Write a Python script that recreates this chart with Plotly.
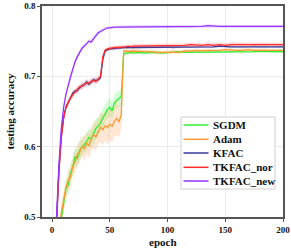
import plotly.graph_objects as go

epochs = [0, 2, 4, 6, 8, 10, 12, 14, 16, 18, 20, 22, 24, 26, 28, 30, 32, 34, 36, 38,
          40, 42, 44, 46, 48, 50, 52, 54, 56, 58, 60, 62, 64, 66, 68, 70,
          75, 80, 85, 90, 95, 100, 105, 110, 115, 120, 125, 130, 135, 140, 145,
          150, 155, 160, 165, 170, 175, 180, 185, 190, 195, 200]

sgdm = [0.300, 0.360, 0.420, 0.465, 0.498, 0.520, 0.540, 0.545, 0.562, 0.571, 0.586, 0.583,
        0.595, 0.599, 0.603, 0.607, 0.613, 0.611, 0.619, 0.626, 0.629, 0.634, 0.641, 0.646,
        0.653, 0.656, 0.651, 0.662, 0.666, 0.668, 0.671, 0.731, 0.733, 0.733, 0.734, 0.733,
        0.734, 0.733, 0.734, 0.734, 0.733, 0.734, 0.734, 0.735, 0.734, 0.734, 0.735, 0.734,
        0.735, 0.735, 0.734, 0.735, 0.735, 0.735, 0.734, 0.735, 0.735, 0.736, 0.735, 0.735,
        0.735, 0.735]
sgdm_sd = [0.012, 0.012, 0.012, 0.012, 0.012, 0.012, 0.013, 0.012, 0.013, 0.012, 0.013, 0.012,
           0.013, 0.012, 0.011, 0.012, 0.013, 0.012, 0.013, 0.014, 0.013, 0.012, 0.014, 0.013,
           0.012, 0.013, 0.012, 0.011, 0.012, 0.011, 0.012, 0.003, 0.002, 0.002, 0.002, 0.002,
           0.002, 0.002, 0.001, 0.002, 0.002, 0.001, 0.002, 0.002, 0.001, 0.002, 0.002, 0.001,
           0.002, 0.002, 0.001, 0.002, 0.002, 0.001, 0.002, 0.002, 0.001, 0.002, 0.002, 0.001,
           0.002, 0.002]

adam = [0.320, 0.380, 0.435, 0.475, 0.505, 0.522, 0.541, 0.552, 0.557, 0.572, 0.579, 0.589,
        0.592, 0.601, 0.597, 0.605, 0.601, 0.612, 0.617, 0.614, 0.622, 0.628, 0.624, 0.630,
        0.627, 0.632, 0.629, 0.636, 0.640, 0.635, 0.646, 0.736, 0.736, 0.735, 0.736, 0.736,
        0.735, 0.735, 0.735, 0.734, 0.734, 0.734, 0.735, 0.734, 0.736, 0.736, 0.737, 0.737,
        0.737, 0.737, 0.737, 0.738, 0.737, 0.737, 0.737, 0.738, 0.737, 0.737, 0.737, 0.738,
        0.737, 0.737]
adam_sd = [0.015, 0.015, 0.015, 0.015, 0.014, 0.015, 0.014, 0.016, 0.015, 0.014, 0.016, 0.015,
           0.016, 0.014, 0.017, 0.016, 0.018, 0.017, 0.019, 0.020, 0.018, 0.021, 0.022, 0.020,
           0.024, 0.022, 0.023, 0.021, 0.024, 0.022, 0.020, 0.003, 0.002, 0.003, 0.002, 0.003,
           0.003, 0.002, 0.003, 0.003, 0.002, 0.003, 0.003, 0.002, 0.003, 0.002, 0.003, 0.002,
           0.003, 0.002, 0.003, 0.002, 0.003, 0.002, 0.003, 0.002, 0.003, 0.002, 0.003, 0.002,
           0.003, 0.002]

kfac = [0.350, 0.430, 0.505, 0.566, 0.613, 0.641, 0.656, 0.662, 0.670, 0.676, 0.679, 0.680,
        0.684, 0.687, 0.688, 0.692, 0.689, 0.692, 0.695, 0.694, 0.695, 0.698, 0.724, 0.736,
        0.738, 0.739, 0.739, 0.740, 0.740, 0.740, 0.741, 0.741, 0.741, 0.741, 0.741, 0.741,
        0.741, 0.741, 0.742, 0.741, 0.742, 0.742, 0.741, 0.742, 0.742, 0.742, 0.742, 0.742,
        0.742, 0.742, 0.743, 0.742, 0.742, 0.742, 0.742, 0.742, 0.743, 0.742, 0.742, 0.742,
        0.742, 0.742]
kfac_sd = [0.003, 0.003, 0.003, 0.003, 0.003, 0.004, 0.003, 0.004, 0.003, 0.004, 0.003, 0.004,
           0.003, 0.004, 0.003, 0.004, 0.003, 0.004, 0.003, 0.004, 0.003, 0.003, 0.003, 0.002,
           0.002, 0.002, 0.002, 0.002, 0.002, 0.002, 0.002, 0.002, 0.002, 0.002, 0.002, 0.002,
           0.002, 0.001, 0.002, 0.001, 0.002, 0.001, 0.002, 0.001, 0.002, 0.001, 0.002, 0.001,
           0.002, 0.001, 0.002, 0.001, 0.002, 0.001, 0.002, 0.001, 0.002, 0.001, 0.002, 0.001,
           0.002, 0.001]

tkfac_nor = [0.350, 0.430, 0.505, 0.565, 0.612, 0.640, 0.655, 0.663, 0.669, 0.674, 0.678, 0.681,
             0.685, 0.686, 0.689, 0.691, 0.690, 0.693, 0.694, 0.693, 0.696, 0.700, 0.728, 0.737,
             0.739, 0.740, 0.740, 0.741, 0.741, 0.741, 0.742, 0.742, 0.742, 0.743, 0.742, 0.743,
             0.743, 0.743, 0.744, 0.743, 0.744, 0.744, 0.743, 0.744, 0.744, 0.745, 0.744, 0.744,
             0.745, 0.744, 0.745, 0.744, 0.745, 0.745, 0.744, 0.745, 0.745, 0.745, 0.744, 0.745,
             0.745, 0.745]
tkfac_nor_sd = [0.004, 0.004, 0.004, 0.004, 0.004, 0.005, 0.004, 0.005, 0.004, 0.005, 0.004, 0.005,
                0.004, 0.005, 0.004, 0.005, 0.004, 0.005, 0.004, 0.005, 0.004, 0.004, 0.004, 0.003,
                0.003, 0.003, 0.003, 0.003, 0.003, 0.003, 0.003, 0.003, 0.003, 0.003, 0.003, 0.003,
                0.003, 0.003, 0.003, 0.003, 0.003, 0.003, 0.003, 0.003, 0.003, 0.003, 0.003, 0.003,
                0.003, 0.003, 0.003, 0.003, 0.003, 0.003, 0.003, 0.003, 0.003, 0.003, 0.003, 0.003,
                0.003, 0.003]

tkfac_new = [0.360, 0.440, 0.515, 0.575, 0.625, 0.655, 0.674, 0.688, 0.699, 0.710, 0.721, 0.728,
             0.735, 0.740, 0.743, 0.747, 0.750, 0.749, 0.754, 0.758, 0.762, 0.764, 0.766, 0.768,
             0.769, 0.769, 0.770, 0.770, 0.770, 0.770, 0.770, 0.771, 0.770, 0.771, 0.771, 0.770,
             0.771, 0.771, 0.770, 0.771, 0.771, 0.770, 0.771, 0.771, 0.771, 0.770, 0.771, 0.771,
             0.772, 0.771, 0.771, 0.771, 0.771, 0.772, 0.771, 0.771, 0.771, 0.771, 0.772, 0.771,
             0.771, 0.771]
tkfac_new_sd = [0.004, 0.004, 0.004, 0.004, 0.004, 0.004, 0.004, 0.004, 0.004, 0.004, 0.004, 0.004,
                0.003, 0.003, 0.003, 0.003, 0.003, 0.003, 0.003, 0.003, 0.003, 0.003, 0.002, 0.002,
                0.002, 0.002, 0.002, 0.002, 0.002, 0.002, 0.002, 0.002, 0.002, 0.002, 0.002, 0.002,
                0.002, 0.002, 0.002, 0.002, 0.002, 0.002, 0.002, 0.002, 0.002, 0.002, 0.002, 0.002,
                0.002, 0.002, 0.002, 0.002, 0.002, 0.002, 0.002, 0.002, 0.002, 0.002, 0.002, 0.002,
                0.002, 0.002]

series_names = ["SGDM", "Adam", "KFAC", "TKFAC_nor", "TKFAC_new"]
series_vals = [sgdm, adam, kfac, tkfac_nor, tkfac_new]
series_sd = [sgdm_sd, adam_sd, kfac_sd, tkfac_nor_sd, tkfac_new_sd]
line_colors = ["#33ee33", "#ff9933", "#3a3a9a", "#ff2a2a", "#9933ff"]
fill_colors = ["rgba(60,240,60,0.22)", "rgba(255,160,80,0.25)", "rgba(70,70,170,0.20)",
               "rgba(255,60,60,0.20)", "rgba(160,80,255,0.22)"]

FONT = "Liberation Serif, Times New Roman, Times, serif"
W, H = 291, 251
ML, MR, MT, MB = 42, 8, 6, 34
PW, PH = W - ML - MR, H - MT - MB


def px_to_paper_x(px):
    return (px - ML) / PW


def px_to_paper_y(py):
    return (H - MB - py) / PH


fig = go.Figure()

for vals, sd, fcol in zip(series_vals, series_sd, fill_colors):
    upper = [v + s for v, s in zip(vals, sd)]
    lower = [v - s for v, s in zip(vals, sd)]
    fig.add_trace(go.Scatter(
        x=epochs + epochs[::-1], y=upper + lower[::-1],
        fill="toself", fillcolor=fcol, line=dict(width=0),
        mode="lines", hoverinfo="skip", showlegend=False))

for name, vals, col in zip(series_names, series_vals, line_colors):
    fig.add_trace(go.Scatter(
        x=epochs, y=vals, mode="lines", name=name, showlegend=False,
        line=dict(color=col, width=1.3)))

# legend box (drawn manually to match compact row spacing)
shapes = [dict(type="rect", xref="paper", yref="paper",
               x0=px_to_paper_x(181), x1=px_to_paper_x(275),
               y0=px_to_paper_y(189), y1=px_to_paper_y(117),
               fillcolor="white", line=dict(color="#d0d0d0", width=1), layer="above")]
annotations = []
row_y = [125, 139.3, 153, 167.3, 181]
for name, col, ry in zip(series_names, line_colors, row_y):
    shapes.append(dict(type="line", xref="paper", yref="paper",
                       x0=px_to_paper_x(183.5), x1=px_to_paper_x(208.5),
                       y0=px_to_paper_y(ry), y1=px_to_paper_y(ry),
                       line=dict(color=col, width=1.5), layer="above"))
    annotations.append(dict(xref="paper", yref="paper", x=px_to_paper_x(210.5),
                            y=px_to_paper_y(ry), text=name, showarrow=False,
                            xanchor="left", yanchor="middle",
                            font=dict(family=FONT, size=11, color="#111", weight="bold")))

annotations.append(dict(xref="paper", yref="paper", x=px_to_paper_x(162.5),
                        y=px_to_paper_y(242), text="epoch", showarrow=False,
                        xanchor="center", yanchor="middle",
                        font=dict(family=FONT, size=11, color="#111", weight="bold")))
annotations.append(dict(xref="paper", yref="paper", x=px_to_paper_x(9),
                        y=px_to_paper_y(111.5), text="testing accuracy", showarrow=False,
                        textangle=-90, xanchor="center", yanchor="middle",
                        font=dict(family=FONT, size=11, color="#111", weight="bold")))

fig.update_layout(
    width=W, height=H,
    margin=dict(l=ML, r=MR, t=MT, b=MB, autoexpand=False),
    paper_bgcolor="white", plot_bgcolor="white",
    font=dict(family=FONT, size=10, color="#111", weight="bold"),
    showlegend=False,
    shapes=shapes, annotations=annotations,
)
fig.update_xaxes(
    range=[-8.66, 200], tickvals=[0, 50, 100, 150, 200], automargin=False,
    showgrid=True, gridcolor="#ebebeb", gridwidth=1,
    showline=True, linecolor="#555555", linewidth=1.5, mirror=True,
    ticks="outside", ticklen=3, tickcolor="#555555", zeroline=False,
    tickfont=dict(family=FONT, size=9, color="#111", weight="bold"),
)
fig.update_yaxes(
    range=[0.5, 0.8], tickvals=[0.5, 0.6, 0.7, 0.8], ticktext=["0.5", "0.6", "0.7", "0.8"],
    automargin=False,
    showgrid=True, gridcolor="#ebebeb", gridwidth=1,
    showline=True, linecolor="#555555", linewidth=1.5, mirror=True,
    ticks="outside", ticklen=3, tickcolor="#555555", zeroline=False,
    tickfont=dict(family=FONT, size=9, color="#111", weight="bold"),
)

fig.write_html(
    "out.html",
    config={"displayModeBar": False},
    post_script="document.body.style.margin='0';document.body.style.padding='0';"
                "document.documentElement.style.overflow='hidden';",
)
